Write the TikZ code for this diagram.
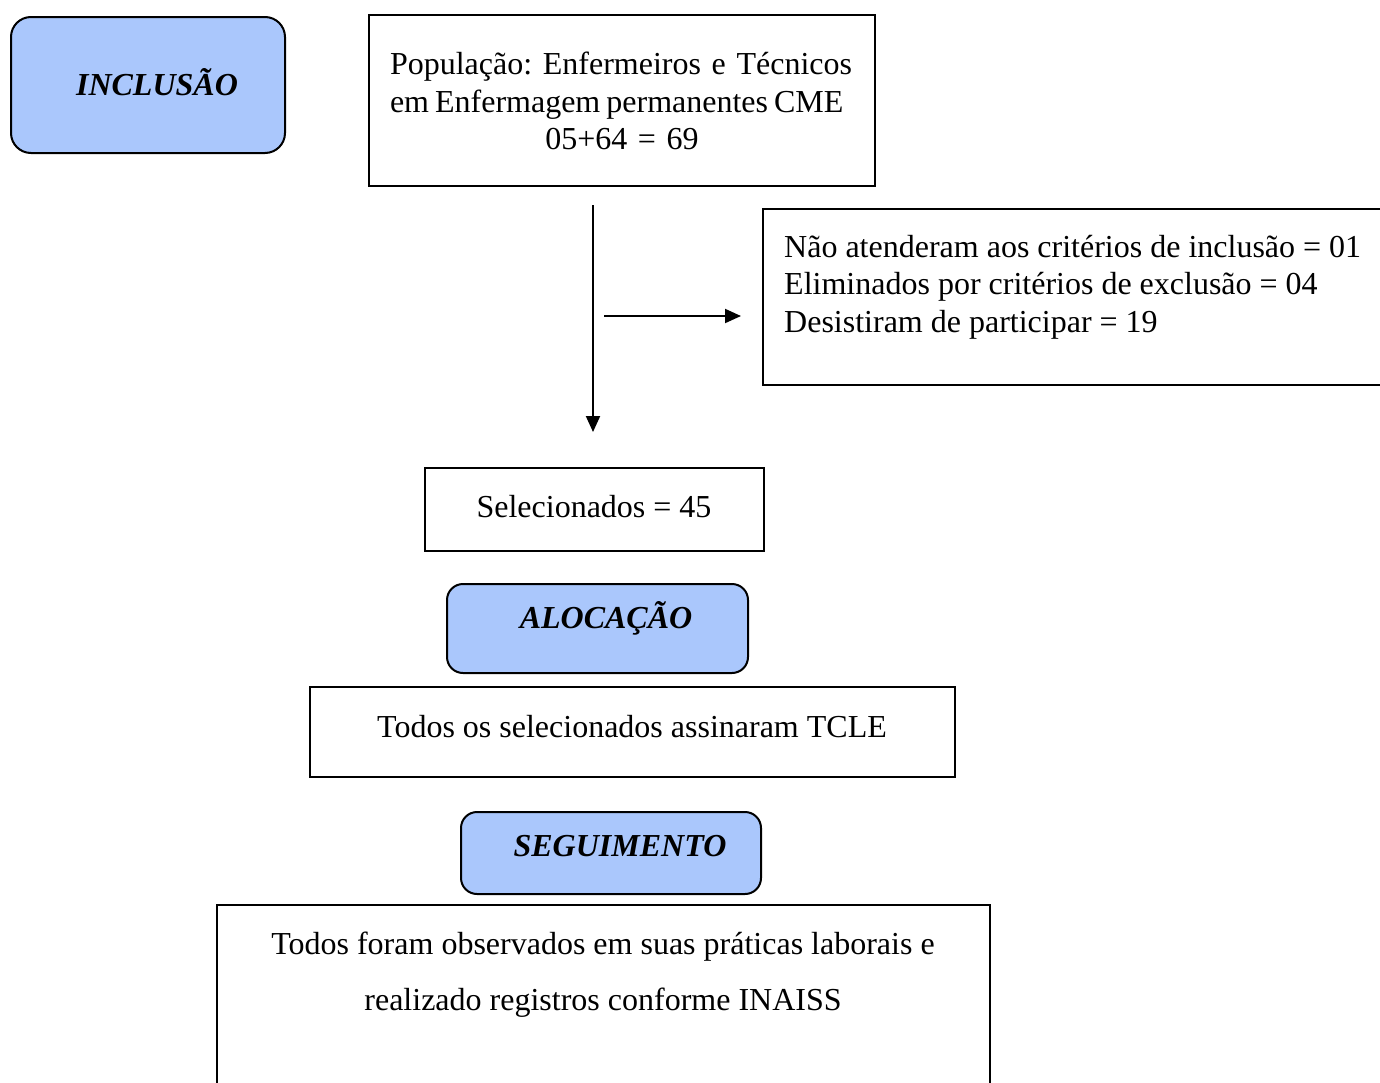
\documentclass[tikz,border=0pt]{standalone}
\usepackage{fontspec}
\setmainfont{Liberation Serif}
\usetikzlibrary{arrows.meta}
\definecolor{boxblue}{RGB}{170,199,252}
\frenchspacing
\tikzset{
  plainbox/.style={draw=black, line width=2pt, rectangle, inner sep=0pt},
  roundbox/.style={draw=black, line width=2pt, rectangle, rounded corners=20pt, fill=boxblue, inner sep=0pt},
  txt/.style={inner sep=0pt, font=\fontsize{32}{37.5}\selectfont},
  head/.style={inner sep=0pt, font=\fontsize{32}{37.5}\selectfont\bfseries\itshape},
  arr/.style={line width=2pt, -{Triangle[width=14pt,length=16pt]}},
}
\begin{document}
\begin{tikzpicture}[x=1pt,y=-1pt]
\useasboundingbox (0,0) rectangle (1380,1082);
\clip (0,0) rectangle (1380,1082);
\fill[white] (0,0) rectangle (1380,1082);
% INCLUSAO
\node[roundbox, minimum width=274pt, minimum height=136pt] (inc) at (148,85) {};
\node[head] (inct) at (157,82) {INCLUSÃO};
% Populacao
\node[plainbox, minimum width=506pt, minimum height=171pt] (pop) at (622,100.5) {};
\node[txt, text width=464pt, align=left] (popt) at (622,101) {\makebox[464pt][s]{População: Enfermeiros e Técnicos}\\\makebox[464pt][l]{\spaceskip=6pt em Enfermagem permanentes CME}\\\makebox[464pt][c]{05+64 = 69}};
% arrows
\coordinate (vs) at (593,205);
\coordinate (ve) at (593,432);
\coordinate (hs) at (604,316);
\coordinate (he) at (741,316);
\draw[arr] (vs) -- (ve);
\draw[arr] (hs) -- (he);
% exclusion box
\node[plainbox, minimum width=700pt, minimum height=176pt] (exc) at (1113,297) {};
\node[txt, align=left, anchor=west] (exct) at (784,287) {Não atenderam aos critérios de inclusão = 01\\Eliminados por critérios de exclusão = 04\\Desistiram de participar = 19};
% Selecionados
\node[plainbox, minimum width=339pt, minimum height=83pt] (sel) at (594.5,509.5) {};
\node[txt] (selt) at (594,507) {Selecionados = 45};
% ALOCACAO
\node[roundbox, minimum width=301pt, minimum height=89pt, rounded corners=16pt] (alo) at (597.5,628.5) {};
\node[head] (alot) at (606,618) {ALOCAÇÃO};
% TCLE
\node[plainbox, minimum width=645pt, minimum height=90pt] (tcle) at (632.5,732) {};
\node[txt] (tclet) at (632,727) {Todos os selecionados assinaram TCLE};
% SEGUIMENTO
\node[roundbox, minimum width=300pt, minimum height=82pt, rounded corners=16pt] (seg) at (611,853) {};
\node[head] (segt) at (620,846) {SEGUIMENTO};
% bottom box
\node[plainbox, minimum width=773pt, minimum height=250pt] (obs) at (603.5,1030) {};
\node[txt, align=center] (obst1) at (603,947) {Todos foram observados em suas práticas laborais e};
\node[txt, align=center] (obst2) at (603,1003) {realizado registros conforme INAISS};
\end{tikzpicture}
\end{document}
